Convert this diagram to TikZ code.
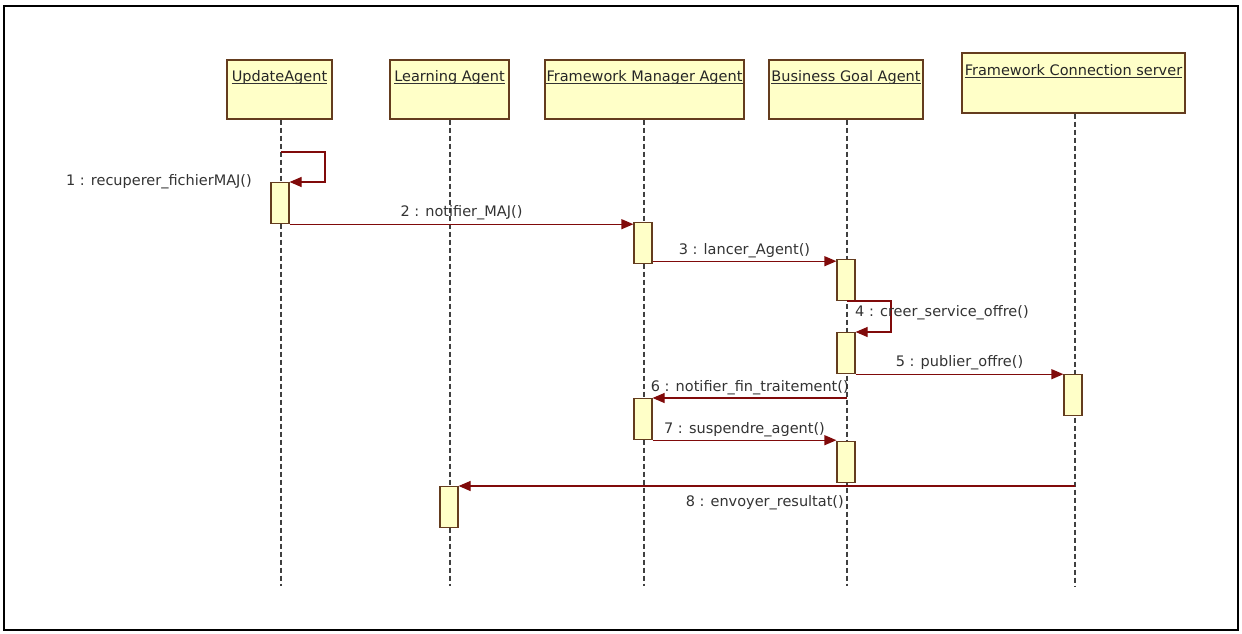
\documentclass[tikz,border=0pt]{standalone}
\usepackage{fontspec}
\setmainfont{DejaVu Sans}
\usetikzlibrary{arrows.meta,calc}
\definecolor{boxfill}{RGB}{255,255,200}
\definecolor{boxline}{RGB}{100,60,30}
\definecolor{msgcol}{RGB}{128,10,10}
\tikzset{
  head/.style={draw=boxline,fill=boxfill,line width=1.3pt,minimum height=59pt,inner sep=0pt},
  headtxt/.style={anchor=base,font=\fontsize{14.5}{16}\selectfont,text=black!85,inner sep=0pt},
  uline/.style={draw=black!80,line width=1.2pt},
  act/.style={draw=boxline,fill=boxfill,line width=1.2pt,minimum width=18pt,minimum height=41pt,inner sep=0pt},
  life/.style={draw=black!75,line width=1.1pt,dash pattern=on 5pt off 3pt},
  msg/.style={draw=msgcol,line width=1.2pt,-{Triangle[length=12pt,width=10pt,fill=msgcol]}},
  lbl/.style={font=\fontsize{14.5}{16}\selectfont,text=black!80,inner sep=2pt},
}
\begin{document}
\begin{tikzpicture}[x=1pt,y=-1pt]
\useasboundingbox (0,0) rectangle (1242,634);
\draw[line width=2pt] (4,6) rectangle (1238,630);
% heads
\node[head,minimum width=105pt] (ua) at (279.5,89.5) {};
\node[head,minimum width=119pt] (la) at (449.5,89.5) {};
\node[head,minimum width=199pt] (fm) at (644.5,89.5) {};
\node[head,minimum width=154pt] (bg) at (846,89.5) {};
\node[head,minimum width=223pt,minimum height=60pt] (fc) at (1073.5,83) {};
\node[headtxt] (tua) at ($(ua.north)+(0,22)$) {UpdateAgent};
\node[headtxt] (tla) at ($(la.north)+(0,22)$) {Learning Agent};
\node[headtxt] (tfm) at ($(fm.north)+(0,22)$) {Framework Manager Agent};
\node[headtxt] (tbg) at ($(bg.north)+(0,22)$) {Business Goal Agent};
\node[headtxt] (tfc) at ($(fc.north)+(0,23)$) {Framework Connection server};
\foreach \t in {tua,tla,tfm,tbg,tfc}{
  \draw[uline] ($(\t.base west)+(0,2.5)$) -- ($(\t.base east)+(0,2.5)$);
}
% lifelines
\draw[life] (ua.south -| 281,0) -- (281,586);
\draw[life] (la.south -| 450,0) -- (450,586);
\draw[life] (fm.south -| 644,0) -- (644,586);
\draw[life] (bg.south -| 847,0) -- (847,586);
\draw[life] (fc.south -| 1075,0) -- (1075,586);
% activations
\node[act,anchor=north] (a1) at (280,182) {};
\node[act,anchor=north] (f1) at (643,222) {};
\node[act,anchor=north] (b1) at (846,259) {};
\node[act,anchor=north] (b2) at (846,332) {};
\node[act,anchor=north] (c1) at (1073,374) {};
\node[act,anchor=north] (f2) at (643,398) {};
\node[act,anchor=north] (b3) at (846,441) {};
\node[act,anchor=north] (l1) at (449,486) {};
% messages
\coordinate (s1) at (281,152);
\draw[msg] (s1) -- (325,152) -- (325,182) -- (a1.north east);
\node[lbl,anchor=east] at (254,182) {1 : recuperer\_fichierMAJ()};
\draw[msg] (a1.south east) -- (a1.south east -| f1.west) node[lbl,midway,above=1.5pt] {2 : notifier\_MAJ()};
\coordinate (s3) at ($(f1.south east)+(0,-3)$);
\draw[msg] (s3) -- (s3 -| b1.west) node[lbl,midway,above=0.5pt] {3 : lancer\_Agent()};
\coordinate (s4) at (847,301);
\draw[msg] (s4) -- (891,301) -- (891,332) -- (b2.north east);
\node[lbl,anchor=west] at (853,313) {4 : creer\_service\_offre()};
\draw[msg] (b2.south east) -- (b2.south east -| c1.west) node[lbl,midway,above=1.5pt] {5 : publier\_offre()};
\coordinate (s6) at (847,398);
\draw[msg] (s6) -- (s6 -| f2.east) node[lbl,midway,above=0.5pt] {6 : notifier\_fin\_traitement()};
\draw[msg] (f2.south east) -- (f2.south east -| b3.west) node[lbl,midway,above=0.5pt] {7 : suspendre\_agent()};
\coordinate (s8) at (1075,486);
\draw[msg] (s8) -- (s8 -| l1.east);
\node[lbl,anchor=east] at (846,503) {8 : envoyer\_resultat()};
\end{tikzpicture}
\end{document}
